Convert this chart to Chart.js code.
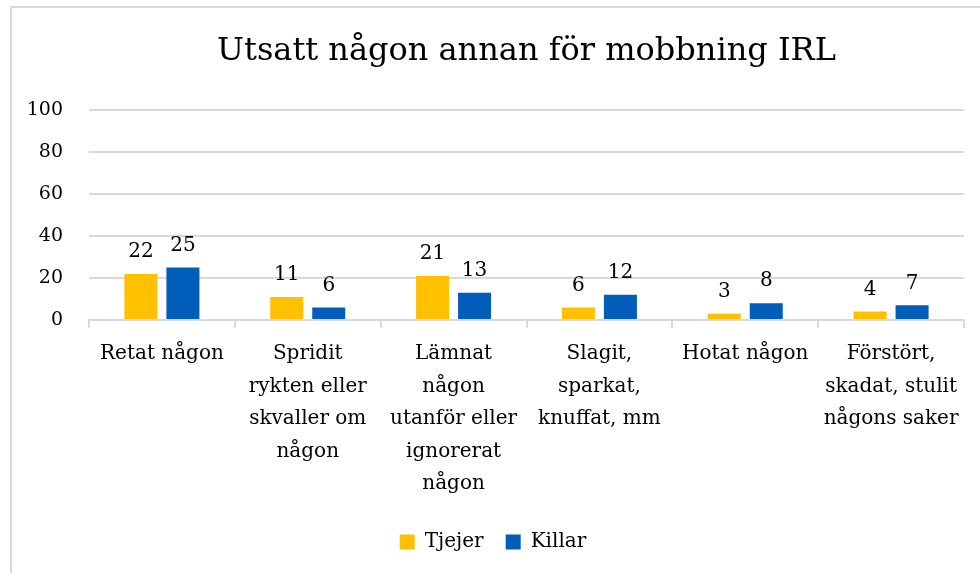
<!DOCTYPE html>
<html>
<head>
<meta charset="utf-8">
<script src="https://cdn.jsdelivr.net/npm/chart.js@4.4.1/dist/chart.umd.min.js"></script>
<style>
  html, body { margin: 0; padding: 0; background: #fff; }
  #wrap { position: relative; width: 980px; height: 573px; overflow: hidden; }
  #frame { position: absolute; left: 10px; top: 6px; width: 1000px; height: 600px; border: 2px solid #d9d9d9; box-sizing: border-box; }
  #chart { position: absolute; left: 0; top: 0; }
</style>
</head>
<body>
<div id="wrap">
  <div id="frame"></div>
  <canvas id="chart" width="980" height="573"></canvas>
</div>
<script>
// Kategorier och värden
const categories = [
    ['Retat någon'],
    ['Spridit', 'rykten eller', 'skvaller om', 'någon'],
    ['Lämnat', 'någon', 'utanför eller', 'ignorerat', 'någon'],
    ['Slagit,', 'sparkat,', 'knuffat, mm'],
    ['Hotat någon'],
    ['Förstört,', 'skadat, stulit', 'någons saker']
];
const tjejer = [22, 11, 21, 6, 3, 4];
const killar = [25, 6, 13, 12, 8, 7];
const yTicks = [0, 20, 40, 60, 80, 100];

const fontFamily = '"DejaVu Serif", serif';

// Skriver värdet ovanför varje stapel
const valueLabels = {
    id: 'valueLabels',
    afterDatasetsDraw(chart) {
        const ctx = chart.ctx;
        ctx.save();
        ctx.font = '20px ' + fontFamily;
        ctx.fillStyle = '#000';
        ctx.textAlign = 'center';
        ctx.textBaseline = 'bottom';
        chart.data.datasets.forEach((ds, i) => {
            chart.getDatasetMeta(i).data.forEach((bar, j) => {
                ctx.fillText(ds.data[j], bar.x, bar.y - 12);
            });
        });
        ctx.restore();
    }
};

const ctx = document.getElementById('chart').getContext('2d');
new Chart(ctx, {
    type: 'bar',
    data: {
        labels: categories,
        datasets: [
            { label: 'Tjejer', data: tjejer, backgroundColor: '#FFC000' },
            { label: 'Killar', data: killar, backgroundColor: '#005DBA' }
        ]
    },
    options: {
        responsive: false,
        animation: false,
        layout: { padding: { left: 22, right: 16, top: 0, bottom: 11 } },
        datasets: {
            bar: { categoryPercentage: 0.576, barPercentage: 0.786 }
        },
        plugins: {
            title: {
                display: true,
                fullSize: false,
                text: 'Utsatt någon annan för mobbning IRL',
                color: '#000',
                font: { family: fontFamily, size: 32, weight: 'normal' },
                padding: { top: 32, bottom: 40 }
            },
            legend: {
                position: 'bottom',
                labels: {
                    boxWidth: 15,
                    boxHeight: 15,
                    padding: 22,
                    color: '#000',
                    font: { family: fontFamily, size: 20 }
                }
            },
            tooltip: { enabled: false }
        },
        scales: {
            x: {
                grid: {
                    offset: true,
                    drawOnChartArea: false,
                    drawTicks: true,
                    tickLength: 8,
                    color: '#d9d9d9',
                    lineWidth: 2
                },
                border: { color: '#d9d9d9', width: 2 },
                ticks: {
                    color: '#000',
                    padding: 10,
                    maxRotation: 0,
                    autoSkip: false,
                    font: { family: fontFamily, size: 20, lineHeight: 1.62 }
                }
            },
            y: {
                min: 0,
                max: 100,
                afterBuildTicks(scale) {
                    scale.ticks = yTicks.map(v => ({ value: v }));
                },
                afterFit(scale) {
                    scale.width = 67;
                },
                grid: { color: '#d9d9d9', lineWidth: 2, drawTicks: false },
                border: { display: false },
                ticks: {
                    color: '#000',
                    padding: 26,
                    font: { family: fontFamily, size: 19 }
                }
            }
        }
    },
    plugins: [valueLabels]
});
</script>
</body>
</html>
